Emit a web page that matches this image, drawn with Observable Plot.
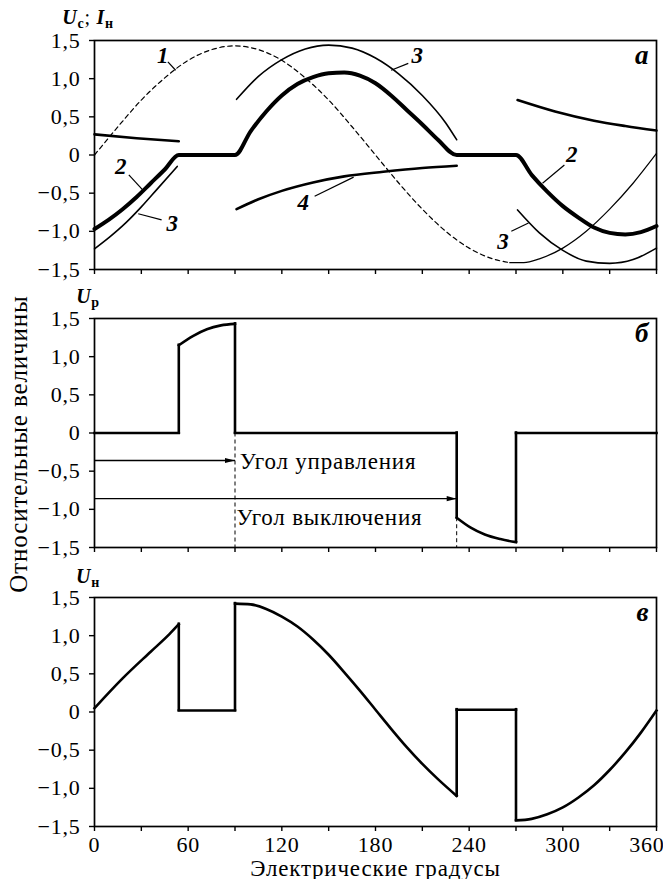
<!DOCTYPE html>
<html><head><meta charset="utf-8">
<script src="https://cdn.jsdelivr.net/npm/d3@7"></script>
<script src="https://cdn.jsdelivr.net/npm/@observablehq/plot@0.6"></script>
<style>
body{margin:0;background:#fff;}
#wrap{position:relative;width:663px;height:879px;overflow:hidden;font-family:"Liberation Serif",serif;color:#000;}
#wrap svg text{letter-spacing:0.035em;}
.panel{position:absolute;left:0;}
#ytitle{position:absolute;left:19px;top:444px;transform:translate(-50%,-50%) rotate(-90deg);white-space:nowrap;font-size:25px;letter-spacing:0.035em;}
</style></head><body>
<div id="wrap"><div id="ytitle"></div></div>
<script>
// ---- axes / text ----
const degTicks = [0,30,60,90,120,150,180,210,240,270,300,330,360];
const degLabels = ["0","","60","","120","","180","","240","","300","",""];
const degLastTick = [360];
const degLastLabel = ["360"];
const valTicks = [-1.5,-1,-0.5,0,0.5,1,1.5];
const valLabels = ["−1,5","−1,0","−0,5","0","0,5","1,0","1,5"];
const xTitle = "Электрические градусы";
const yTitle = "Относительные величины";
const panelLetters = ["а","б","в"];

// ---- panel а ----
// curve 1 (supply voltage, dashed) and its solid tail
const c1Deg = [0,15,30,45,60,75,90,105,120,135,150,165,180,195,210,225,240,255,266];
const c1Val = [0,0.37,0.72,1.01,1.24,1.38,1.43,1.38,1.24,1.01,0.72,0.37,0,-0.37,-0.71,-1.0,-1.22,-1.36,-1.41];
const c1TailDeg = [266,275,285,300,315,330,345,360];
const c1TailVal = [-1.41,-1.41,-1.36,-1.22,-1.0,-0.71,-0.37,0.02];
// curve 2 (load current, thick)
const c2Deg = [0,9,18,27,36,45,54,90,100,110,120,130,140,150,160,170,180,190,200,210,220,232,270,280,290,300,310,320,330,340,350,360];
const c2Val = [-0.97,-0.85,-0.71,-0.55,-0.37,-0.19,0,0,0.31,0.57,0.78,0.93,1.02,1.07,1.08,1.04,0.94,0.78,0.59,0.40,0.20,0,0,-0.26,-0.48,-0.67,-0.82,-0.95,-1.02,-1.04,-1.01,-0.93];
// curve 3 (steady-state current, thin) three segments
const c3aDeg = [0,10,20,30,40,53];
const c3aVal = [-1.23,-1.07,-0.89,-0.68,-0.45,-0.15];
const c3bDeg = [91,105,120,135,150,165,180,195,210,225,232];
const c3bVal = [0.73,1.03,1.25,1.39,1.44,1.40,1.27,1.06,0.78,0.42,0.20];
const c3cDeg = [271,285,300,315,330,345,360];
const c3cVal = [-0.72,-1.02,-1.25,-1.39,-1.42,-1.37,-1.22];
// curve 4 (free component) three segments
const c4aDeg = [0,27,54];
const c4aVal = [0.27,0.22,0.18];
const c4bDeg = [91,105,120,140,160,185,210,232];
const c4bVal = [-0.71,-0.58,-0.47,-0.36,-0.28,-0.22,-0.17,-0.14];
const c4cDeg = [271,295,320,340,360];
const c4cVal = [0.72,0.57,0.45,0.38,0.32];
// curve number labels with leaders
const numText = ["1","3","2","3","4","2","3"];
const numDeg = [44,207,17,50,134,306,262];
const numVal = [1.30,1.30,-0.15,-0.90,-0.63,0.01,-1.13];
const leadFromDeg = [47,201,22,43,141,301,267];
const leadFromVal = [1.22,1.20,-0.26,-0.85,-0.54,-0.13,-1.0];
const leadToDeg = [52,190,31,28,166,287,278];
const leadToVal = [1.11,1.11,-0.46,-0.77,-0.29,-0.37,-0.89];

// ---- panel б ----
const ubFlatDeg1 = [0,90,270];       const ubFlatDeg2 = [54,232,360];
const ubArcUpDeg = [54,63,72,81,90]; const ubArcUpVal = [1.15,1.27,1.36,1.41,1.43];
const ubArcDnDeg = [232,241,250,260,270]; const ubArcDnVal = [-1.11,-1.24,-1.33,-1.39,-1.43];
const ubJumpDeg = [54,90,232,270];   const ubJumpFrom = [0,1.43,0,-1.43]; const ubJumpTo = [1.15,0,-1.11,0];
const guideDeg = [90,232];          const guideTop = [0,-1.11];
const arrowEndDeg = [90,232];       const arrowVal = [-0.36,-0.86];
const arrowText = ["Угол управления","Угол выключения"];
const arrowTextDeg = [93,91];       const arrowTextVal = [-0.37,-1.11];

// ---- panel в ----
const uc1Deg = [0,18,36,48,54];     const uc1Val = [0.05,0.44,0.79,1.02,1.15];
const ucFlatDeg1 = [54,232];         const ucFlatDeg2 = [90,270]; const ucFlatVal = [0.02,0.03];
const uc3Deg = [90,100,110,120,130,140,150,160,170,180,190,200,210,220,232];
const uc3Val = [1.42,1.41,1.35,1.25,1.12,0.95,0.75,0.52,0.28,0.03,-0.22,-0.46,-0.68,-0.88,-1.10];
const uc5Deg = [270,280,290,300,310,320,330,340,350,360];
const uc5Val = [-1.42,-1.40,-1.34,-1.25,-1.12,-0.96,-0.76,-0.53,-0.27,0.02];
const ucJumpDeg = [54,90,232,270];   const ucJumpFrom = [1.15,0.02,-1.10,0.03]; const ucJumpTo = [0.02,1.42,0.03,-1.42];

// ---- helpers ----
const pts = (xs, ys) => xs.map((x, i) => ({x, y: ys[i]}));
const W = 663, ML = 94, MR = 7, PH = 229;
const FONT = '"Liberation Serif", serif';
const fmtY = d => valLabels[valTicks.indexOf(d)];
const arrowHead = {draw(ctx) { ctx.moveTo(0,0); ctx.lineTo(-10,-2.6); ctx.lineTo(-10,2.6); ctx.closePath(); }};

function basePlot(mt, mb, marks) {
  return Plot.plot({
    width: W, height: mt + PH + mb,
    marginLeft: ML, marginRight: MR, marginTop: mt, marginBottom: mb,
    x: {domain: [0, 360]}, y: {domain: [-1.5, 1.5]},
    style: {fontFamily: FONT, fontSize: "22px", color: "black", background: "transparent", overflow: "visible"},
    marks
  });
}
const yAxis = () => Plot.axisY(valTicks, {tickSize: 5, tickPadding: 9, tickFormat: fmtY, label: null, strokeWidth: 1.4, fontSize: 22, fontFamily: FONT});
const xAxisBare = () => Plot.axisX(degTicks, {tickSize: 5, tickFormat: () => "", label: null, strokeWidth: 1.4});
const frame = () => Plot.frame({stroke: "black", strokeWidth: 1.7});
const letter = (s) => Plot.text([s], {text: d => d, frameAnchor: "top-right", lineAnchor: "bottom", dx: -7, dy: 23, fontSize: 27, fontStyle: "italic", fontWeight: "bold", fontFamily: FONT});
const arc = {x: "x", y: "y", stroke: "black", strokeWidth: 2.6, curve: "monotone-x", strokeLinecap: "square"};

function symLabel(svg, parts, x, y) {
  const t = d3.select(svg).append("text").attr("x", x).attr("y", y)
    .attr("font-family", FONT).attr("font-size", 20).attr("fill", "black");
  parts.forEach(([txt, sub]) => {
    const ts = t.append("tspan").text(txt);
    if (sub === 1) ts.attr("font-size", 14).attr("dy", 4).attr("font-style", "normal").attr("font-weight", "bold");
    else if (sub === 2) ts.attr("dy", -4).attr("font-style", "normal");
    else ts.attr("font-style", "italic").attr("font-weight", "bold");
  });
}

const wrap = document.getElementById("wrap");
document.getElementById("ytitle").textContent = yTitle;

// panel а
const svgA = basePlot(40, 12, [
  frame(), yAxis(), xAxisBare(),
  Plot.line(pts(c1Deg, c1Val), {x: "x", y: "y", curve: "monotone-x", stroke: "black", strokeWidth: 1.2, strokeDasharray: "4.5,3.5"}),
  Plot.line(pts(c1TailDeg, c1TailVal), {x: "x", y: "y", curve: "monotone-x", stroke: "black", strokeWidth: 1.2}),
  Plot.line(pts(c3aDeg, c3aVal), {x: "x", y: "y", curve: "monotone-x", stroke: "black", strokeWidth: 1.6}),
  Plot.line(pts(c3bDeg, c3bVal), {x: "x", y: "y", curve: "monotone-x", stroke: "black", strokeWidth: 1.6}),
  Plot.line(pts(c3cDeg, c3cVal), {x: "x", y: "y", curve: "monotone-x", stroke: "black", strokeWidth: 1.6}),
  Plot.line(pts(c4aDeg, c4aVal), {x: "x", y: "y", curve: "monotone-x", stroke: "black", strokeWidth: 2.6}),
  Plot.line(pts(c4bDeg, c4bVal), {x: "x", y: "y", curve: "monotone-x", stroke: "black", strokeWidth: 2.6}),
  Plot.line(pts(c4cDeg, c4cVal), {x: "x", y: "y", curve: "monotone-x", stroke: "black", strokeWidth: 2.6}),
  Plot.line(pts(c2Deg, c2Val), {x: "x", y: "y", curve: "monotone-x", stroke: "black", strokeWidth: 4}),
  Plot.link(numText.map((t, i) => i), {x1: i => leadFromDeg[i], y1: i => leadFromVal[i], x2: i => leadToDeg[i], y2: i => leadToVal[i], stroke: "black", strokeWidth: 1.2}),
  Plot.text(numText, {x: (d, i) => numDeg[i], y: (d, i) => numVal[i], text: d => d, fontSize: 23, fontStyle: "italic", fontWeight: "bold", fontFamily: FONT}),
  letter(panelLetters[0])
]);
svgA.classList.add("panel"); svgA.style.top = "0px";
symLabel(svgA, [["U",0],["с",1],["; ",2],["I",0],["н",1]], 88, 24);
wrap.appendChild(svgA);

// panel б
const svgB = basePlot(39, 12, [
  frame(), yAxis(), xAxisBare(),
  Plot.ruleX(guideDeg, {x: d => d, y1: (d, i) => guideTop[i], y2: -1.5, stroke: "black", strokeWidth: 1, strokeDasharray: "4,3"}),
  Plot.link(ubFlatDeg1, {x1: d => d, x2: (d, i) => ubFlatDeg2[i], y1: 0, y2: 0, stroke: "black", strokeWidth: 2.6, strokeLinecap: "square"}),
  Plot.ruleX(ubJumpDeg, {x: d => d, y1: (d, i) => ubJumpFrom[i], y2: (d, i) => ubJumpTo[i], stroke: "black", strokeWidth: 2.6, strokeLinecap: "square"}),
  Plot.line(pts(ubArcUpDeg, ubArcUpVal), arc),
  Plot.line(pts(ubArcDnDeg, ubArcDnVal), arc),
  Plot.link(arrowEndDeg, {x1: 0, y1: (d, i) => arrowVal[i], x2: d => d, y2: (d, i) => arrowVal[i], stroke: "black", strokeWidth: 1.3}),
  Plot.dot(arrowEndDeg, {x: d => d, y: (d, i) => arrowVal[i], symbol: arrowHead, fill: "black", stroke: "none"}),
  Plot.text(arrowText, {x: (d, i) => arrowTextDeg[i], y: (d, i) => arrowTextVal[i], text: d => d, textAnchor: "start", fontSize: 23, fontFamily: FONT}),
  letter(panelLetters[1])
]);
svgB.classList.add("panel"); svgB.style.top = "279px";
symLabel(svgB, [["U",0],["р",1]], 88, 24);
wrap.appendChild(svgB);

// panel в
const svgC = basePlot(40, 53, [
  frame(), yAxis(),
  Plot.axisX(degTicks, {tickSize: 5, tickPadding: 5, tickFormat: d => degLabels[degTicks.indexOf(d)], label: null, strokeWidth: 1.4, fontSize: 22, fontFamily: FONT}),
  Plot.axisX(degLastTick, {tickSize: 5, tickPadding: 5, tickFormat: d => degLastLabel[degLastTick.indexOf(d)], label: null, strokeWidth: 1.4, fontSize: 22, fontFamily: FONT, textAnchor: "end", dx: 8}),
  Plot.line(pts(uc1Deg, uc1Val), arc),
  Plot.link(ucFlatDeg1, {x1: d => d, x2: (d, i) => ucFlatDeg2[i], y1: (d, i) => ucFlatVal[i], y2: (d, i) => ucFlatVal[i], stroke: "black", strokeWidth: 2.6, strokeLinecap: "square"}),
  Plot.ruleX(ucJumpDeg, {x: d => d, y1: (d, i) => ucJumpFrom[i], y2: (d, i) => ucJumpTo[i], stroke: "black", strokeWidth: 2.6, strokeLinecap: "square"}),
  Plot.line(pts(uc3Deg, uc3Val), arc),
  Plot.line(pts(uc5Deg, uc5Val), arc),
  Plot.text([xTitle], {text: d => d, frameAnchor: "bottom", lineAnchor: "middle", dy: 42, fontSize: 23, fontFamily: FONT}),
  letter(panelLetters[2])
]);
svgC.classList.add("panel"); svgC.style.top = "557px";
symLabel(svgC, [["U",0],["н",1]], 88, 26);
wrap.appendChild(svgC);
</script>
</body></html>
